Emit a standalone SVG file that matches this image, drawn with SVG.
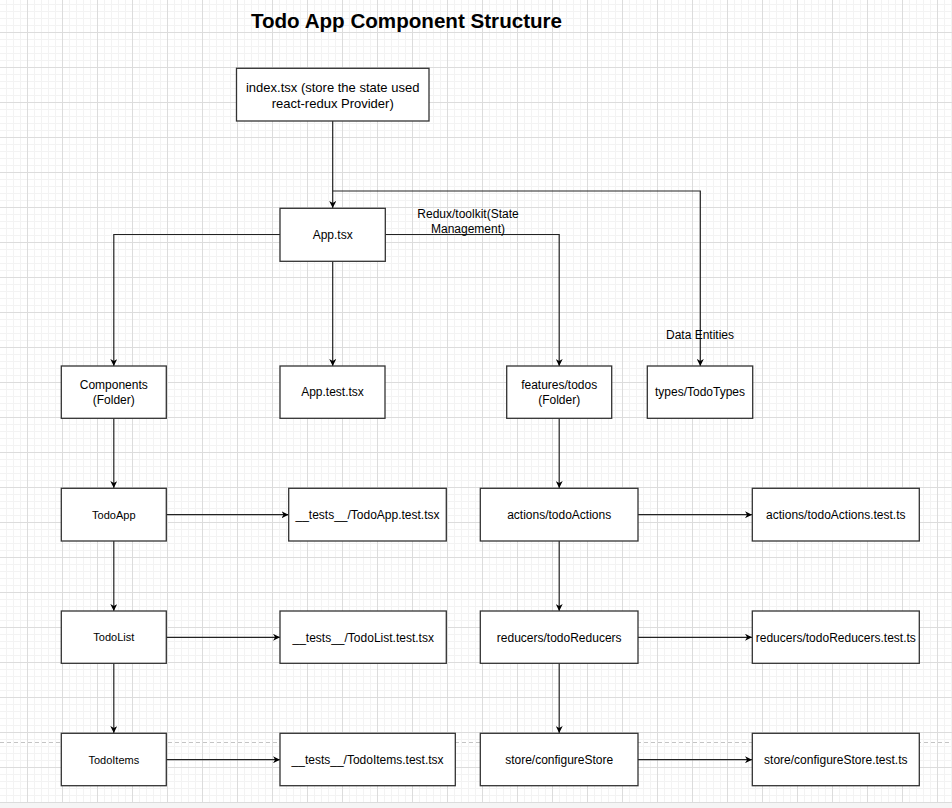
<svg xmlns="http://www.w3.org/2000/svg" width="952" height="808" viewBox="0 0 952 808">
<defs>
<pattern id="grid" patternUnits="userSpaceOnUse" x="27" y="-3" width="35" height="35">
<path d="M7.5 0V35M14.5 0V35M21.5 0V35M28.5 0V35M0 7.5H35M0 14.5H35M0 21.5H35M0 28.5H35" stroke="#f3f3f3" stroke-width="1" fill="none"/>
<path d="M0.5 0V35M0 0.5H35" stroke="#dcdcdc" stroke-width="1" fill="none"/>
</pattern>
<marker id="arr" viewBox="0 0 10 10" refX="10" refY="5" markerWidth="7" markerHeight="7" markerUnits="userSpaceOnUse" orient="auto">
<path d="M0 0L10 5L0 10L3 5Z" fill="#000"/>
</marker>
<style>
.box{fill:#fff;stroke:#333;stroke-width:1.3}
.t{font-family:"Liberation Sans",Arial,sans-serif;font-size:12px;fill:#000;text-anchor:middle}
.s{font-size:11px}
.b{font-size:13px}
.e{fill:none;stroke:#222;stroke-width:1.2;marker-end:url(#arr)}
.l{fill:none;stroke:#222;stroke-width:1.2}
</style>
</defs>
<rect width="952" height="808" fill="#fff"/>
<rect width="952" height="803" fill="url(#grid)"/>
<rect y="803" width="952" height="5" fill="#f5f5f5"/>
<line x1="0" y1="742.5" x2="952" y2="742.5" stroke="#c4c4c4" stroke-dasharray="4 3"/>
<text x="406.5" y="27.5" font-family="Liberation Sans,Arial,sans-serif" font-weight="bold" font-size="20.6" text-anchor="middle" fill="#000">Todo App Component Structure</text>

<g id="connectors">
<path class="e" d="M332.7 121V208"/>
<path class="e" d="M332.7 191H700.3V366"/>
<path class="e" d="M280 234.5H113.8V366"/>
<path class="e" d="M332.7 261V366"/>
<path class="e" d="M385 234.5H559.2V366"/>
<path class="e" d="M113.8 418V488"/>
<path class="e" d="M166 514.7H288.5"/>
<path class="e" d="M113.8 541V611"/>
<path class="e" d="M166 637.3H280"/>
<path class="e" d="M113.8 663V733"/>
<path class="e" d="M166 759.7H280"/>
<path class="e" d="M559.2 418V488"/>
<path class="e" d="M638 514.7H752"/>
<path class="e" d="M559.2 541V611"/>
<path class="e" d="M638 637.3H752"/>
<path class="e" d="M559.2 663V733"/>
<path class="e" d="M638 759.7H752"/>
<text class="t" x="468" y="218.3">Redux/toolkit(State</text>
<text class="t" x="468" y="232.7">Management)</text>
<text class="t" x="700" y="338.5">Data Entities</text>
</g>

<g id="index"><rect class="box" x="236.5" y="68.3" width="192.5" height="52.7"/><text class="t b" x="332.7" y="91.5">index.tsx (store the state used</text><text class="t b" x="332.7" y="107.5">react-redux Provider)</text></g>
<g id="app"><rect class="box" x="280" y="208.3" width="105.3" height="53"/><text class="t" x="332.7" y="238.8">App.tsx</text></g>
<g id="components"><rect class="box" x="61.3" y="366" width="105" height="52.3"/><text class="t" x="113.8" y="389.3">Components</text><text class="t" x="113.8" y="404.3">(Folder)</text></g>
<g id="apptest"><rect class="box" x="280" y="366" width="105" height="52.3"/><text class="t" x="332.5" y="396.3">App.test.tsx</text></g>
<g id="features"><rect class="box" x="506.7" y="366" width="105" height="52.3"/><text class="t" x="559.2" y="389.3">features/todos</text><text class="t" x="559.2" y="404.3">(Folder)</text></g>
<g id="types"><rect class="box" x="647.3" y="366" width="105.4" height="52.3"/><text class="t" x="700" y="396.3">types/TodoTypes</text></g>
<g id="todoapp"><rect class="box" x="61.3" y="488.3" width="105" height="52.7"/><text class="t s" x="113.8" y="518.5">TodoApp</text></g>
<g id="todoapptest"><rect class="box" x="288.7" y="488.3" width="157.6" height="52.7"/><text class="t" x="367.5" y="518.8">__tests__/TodoApp.test.tsx</text></g>
<g id="actions"><rect class="box" x="480.3" y="488.3" width="157.7" height="52.7"/><text class="t" x="559.2" y="518.8">actions/todoActions</text></g>
<g id="actionstest"><rect class="box" x="752.3" y="488.3" width="167" height="52.7"/><text class="t" x="835.8" y="518.8">actions/todoActions.test.ts</text></g>
<g id="todolist"><rect class="box" x="61.3" y="611" width="105" height="52.3"/><text class="t s" x="113.8" y="641.2">TodoList</text></g>
<g id="todolisttest"><rect class="box" x="280" y="611" width="166.3" height="52.3"/><text class="t" x="363.2" y="641.5">__tests__/TodoList.test.tsx</text></g>
<g id="reducers"><rect class="box" x="480.3" y="611" width="157.7" height="52.3"/><text class="t" x="559.2" y="641.5">reducers/todoReducers</text></g>
<g id="reducerstest"><rect class="box" x="752.3" y="611" width="167" height="52.3"/><text class="t" x="835.8" y="641.5">reducers/todoReducers.test.ts</text></g>
<g id="todoitems"><rect class="box" x="61.3" y="733.3" width="105" height="52.4"/><text class="t s" x="113.8" y="763.5">TodoItems</text></g>
<g id="todoitemstest"><rect class="box" x="280" y="733.3" width="175.3" height="52.4"/><text class="t" x="367.6" y="763.8">__tests__/TodoItems.test.tsx</text></g>
<g id="store"><rect class="box" x="480.3" y="733.3" width="157.7" height="52.4"/><text class="t" x="559.2" y="763.8">store/configureStore</text></g>
<g id="storetest"><rect class="box" x="752.3" y="733.3" width="167" height="52.4"/><text class="t" x="835.8" y="763.8">store/configureStore.test.ts</text></g>
</svg>
